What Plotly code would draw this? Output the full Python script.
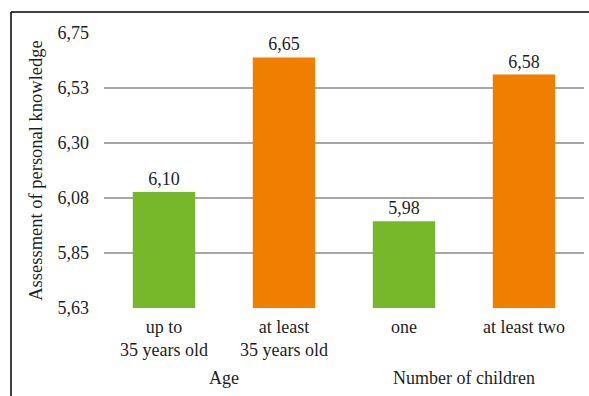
import plotly.graph_objects as go

categories = ["up to<br>35 years old", "at least<br>35 years old", "one", "at least two"]
values = [6.10, 6.65, 5.98, 6.58]
bar_colors = ["#77b82a", "#f07f00", "#77b82a", "#f07f00"]
groups = ["Age", "Number of children"]
group_centers = [0.5, 2.5]
y_ticks = [5.625, 5.85, 6.075, 6.30, 6.525, 6.75]
y_tick_labels = ["5,63", "5,85", "6,08", "6,30", "6,53", "6,75"]

FONT = "Liberation Serif"
TXT = "#1e1e1e"
x_pos = list(range(len(categories)))

fig = go.Figure(go.Bar(
    x=x_pos,
    y=values,
    marker=dict(color=bar_colors, line=dict(width=0)),
    width=0.52,
    texttemplate="%{y:.2f}",
    textposition="outside",
    textfont=dict(family=FONT, size=18, color=TXT),
    cliponaxis=False,
))

for g, c in zip(groups, group_centers):
    fig.add_annotation(x=c, y=0, xref="x", yref="paper", yshift=-70,
                       text=g, showarrow=False, yanchor="middle",
                       font=dict(family=FONT, size=18, color=TXT))

# outer frame (left and top edges)
fig.add_shape(type="line", xref="paper", yref="paper",
              x0=-0.19375, x1=1.2, y0=1.0764, y1=1.0764,
              line=dict(color="black", width=1.5))
fig.add_shape(type="line", xref="paper", yref="paper",
              x0=-0.19375, x1=-0.19375, y0=1.0764, y1=-0.4,
              line=dict(color="black", width=1.5))

fig.update_layout(
    width=589, height=396,
    margin=dict(l=104, r=5, t=33, b=88),
    paper_bgcolor="white", plot_bgcolor="white",
    separators=", ",
    showlegend=False,
    font=dict(family=FONT, size=18, color=TXT),
    xaxis=dict(
        tickvals=x_pos, ticktext=categories, range=[-0.5, 3.5],
        showgrid=False, zeroline=False, showline=False, ticks="",
        ticklabelstandoff=6,
        tickfont=dict(family=FONT, size=18, color=TXT),
    ),
    yaxis=dict(
        range=[5.625, 6.75], tickvals=y_ticks, ticktext=y_tick_labels,
        showgrid=True, gridcolor="#a6a6a6", gridwidth=2,
        zeroline=False, showline=False, ticks="",
        ticklabelstandoff=14,
        tickfont=dict(family=FONT, size=18, color=TXT),
        title=dict(text="Assessment of personal knowledge", standoff=10,
                   font=dict(family=FONT, size=18.5, color=TXT)),
    ),
)

fig.write_html("out.html")
